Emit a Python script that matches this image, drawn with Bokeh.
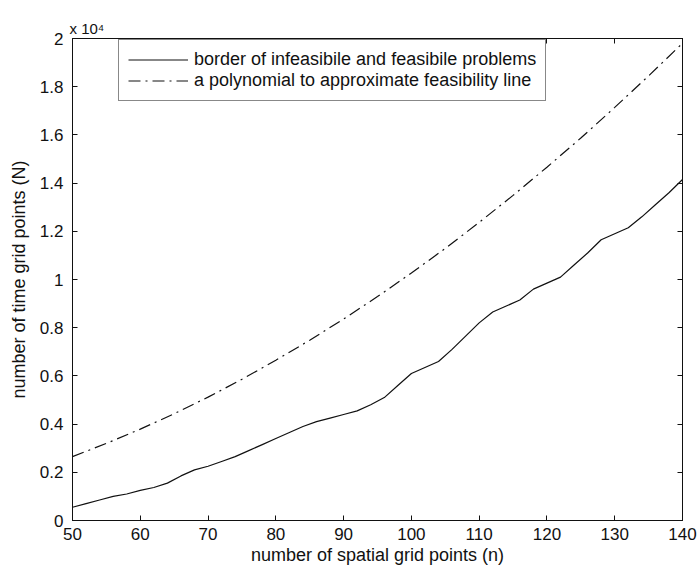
from bokeh.plotting import figure
from bokeh.models import Legend, LegendItem, LinearAxis, FixedTicker, Range1d
from bokeh.embed import file_html
from bokeh.resources import INLINE

# values in units of 10^4 (as shown on the axis)
n_border = [50, 52, 54, 56, 58, 60, 62, 64, 66, 68, 70, 72, 74, 76, 78, 80, 82, 84, 86, 88,
            90, 92, 94, 96, 98, 100, 102, 104, 106, 108, 110, 112, 114, 116, 118, 120, 122,
            124, 126, 128, 130, 132, 134, 136, 138, 140]
N_border = [0.055, 0.070, 0.085, 0.100, 0.110, 0.125, 0.137, 0.155, 0.185, 0.210, 0.225,
            0.245, 0.265, 0.290, 0.315, 0.340, 0.365, 0.390, 0.410, 0.425, 0.440, 0.455,
            0.480, 0.510, 0.560, 0.610, 0.635, 0.660, 0.710, 0.765, 0.820, 0.865, 0.890,
            0.915, 0.960, 0.985, 1.010, 1.060, 1.110, 1.165, 1.190, 1.215, 1.260, 1.310,
            1.360, 1.415]

n_poly = [50, 55, 60, 65, 70, 75, 80, 85, 90, 95, 100, 105, 110, 115, 120, 125, 130, 135, 140]
N_poly = [0.265, 0.320, 0.379, 0.443, 0.512, 0.586, 0.665, 0.748, 0.836, 0.929, 1.027,
          1.129, 1.237, 1.349, 1.466, 1.587, 1.714, 1.845, 1.980]

x_ticks = [50, 60, 70, 80, 90, 100, 110, 120, 130, 140]
y_ticks = [0, 0.2, 0.4, 0.6, 0.8, 1.0, 1.2, 1.4, 1.6, 1.8, 2.0]
y_tick_labels = ["0", "0.2", "0.4", "0.6", "0.8", "1", "1.2", "1.4", "1.6", "1.8", "2"]

FONT = "Liberation Sans"
INK = "#111111"

p = figure(width=697, height=569, output_backend="svg", toolbar_location=None,
           x_range=Range1d(50, 140), y_range=Range1d(0, 2),
           min_border_left=72, min_border_right=15, min_border_top=38, min_border_bottom=49)
p.grid.visible = False
p.outline_line_color = INK
p.outline_line_width = 1
p.outline_line_alpha = 1.0

p.title.text = "x 10\u2074"
p.title.align = "left"
p.title.offset = -3
p.title.standoff = 3
p.title.text_font = FONT
p.title.text_font_size = "15px"
p.title.text_font_style = "normal"
p.title.text_color = INK

r1 = p.line(n_border, N_border, line_color=INK, line_width=1.2)
r2 = p.line(n_poly, N_poly, line_color=INK, line_width=1.2, line_dash="12 5 2 5")

p.xaxis.ticker = FixedTicker(ticks=x_ticks)
p.yaxis.ticker = FixedTicker(ticks=y_ticks)
p.yaxis.major_label_overrides = {t: s for t, s in zip(y_ticks, y_tick_labels)}
p.xaxis.axis_label = "number of spatial grid points (n)"
p.yaxis.axis_label = "number of time grid points (N)"

for ax in (p.xaxis[0], p.yaxis[0]):
    ax.major_tick_in = 5
    ax.major_tick_out = 0
    ax.minor_tick_line_color = None
    ax.axis_line_color = INK
    ax.major_tick_line_color = INK
    ax.major_label_text_font = FONT
    ax.major_label_text_font_size = "17px"
    ax.major_label_text_color = INK
    ax.axis_label_text_font = FONT
    ax.axis_label_text_font_size = "18px"
    ax.axis_label_text_font_style = "normal"
    ax.axis_label_text_color = INK

p.xaxis.major_label_standoff = 7
p.xaxis.axis_label_standoff = 2
p.yaxis.major_label_standoff = 9
p.yaxis.axis_label_standoff = 8

top = LinearAxis(ticker=FixedTicker(ticks=x_ticks), major_label_text_font_size="1px",
                 major_label_text_color=None, major_label_standoff=0,
                 major_tick_in=5, major_tick_out=0,
                 minor_tick_line_color=None, axis_line_color=INK, major_tick_line_color=INK)
right = LinearAxis(ticker=FixedTicker(ticks=y_ticks), major_label_text_font_size="1px",
                   major_label_text_color=None, major_label_standoff=0,
                   major_tick_in=5, major_tick_out=0,
                   minor_tick_line_color=None, axis_line_color=INK, major_tick_line_color=INK)
p.add_layout(top, "above")
p.add_layout(right, "right")

legend = Legend(items=[
    LegendItem(label="border of infeasibile and feasibile problems", renderers=[r1]),
    LegendItem(label="a polynomial to approximate feasibility line", renderers=[r2]),
], location=(46, 419))
legend.glyph_width = 60
legend.glyph_height = 21
legend.label_height = 21
legend.label_standoff = 6
legend.padding = 9
legend.spacing = -3
legend.margin = 0
legend.border_line_color = INK
legend.border_line_width = 1
legend.background_fill_alpha = 1.0
legend.label_text_font = FONT
legend.label_text_font_size = "18px"
legend.label_text_color = INK
p.add_layout(legend)

open("out.html", "w").write(file_html(p, INLINE))
